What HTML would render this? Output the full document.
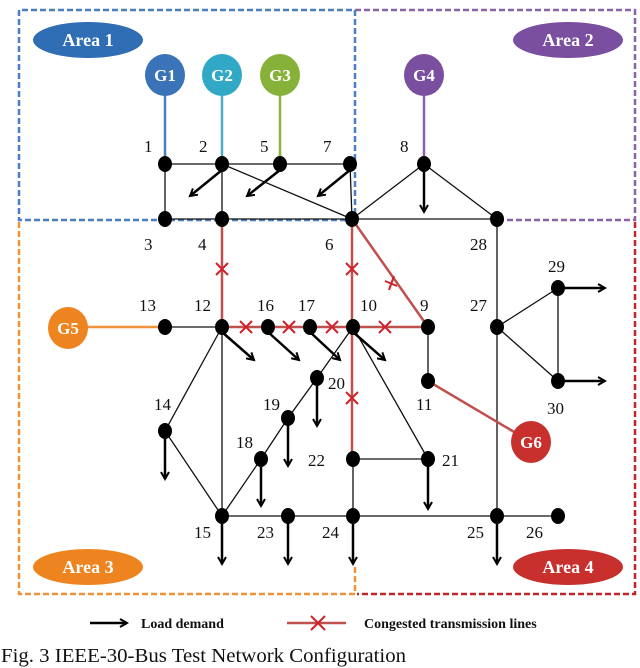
<!DOCTYPE html>
<html><head><meta charset="utf-8"><style>
html,body{margin:0;padding:0;background:#fff;}
svg{display:block;}
text{font-family:"Liberation Serif",serif;}
.n{font-size:17px;fill:#111;}
.g{font-size:17px;font-weight:bold;fill:#fff;text-anchor:middle;}
.a{font-size:18px;font-weight:bold;fill:#fff;text-anchor:middle;}
</style></head><body>
<svg width="640" height="668" viewBox="0 0 640 668" xmlns="http://www.w3.org/2000/svg">
<defs>
<marker id="ar" markerWidth="10" markerHeight="10" refX="8" refY="5" orient="auto" markerUnits="userSpaceOnUse">
<path d="M1,1 L8,5 L1,9" fill="none" stroke="#000" stroke-width="2"/>
</marker>
</defs>
<!-- area boxes -->
<g fill="none" stroke-width="2.5" stroke-dasharray="6,3">
<path d="M355,220 L19,220 L19,10 L355,10 Z" stroke="#4a7fc0"/>
<path d="M355,10 L635,10 L635,220 L497,220" stroke="#8a64a8"/>
<path d="M19,222 L19,594 L355,594 L355,567" stroke="#f0923a"/>
<path d="M635,222 L635,594 L357,594" stroke="#c0262c"/>
</g>
<!-- black lines -->
<g stroke="#111" stroke-width="1.3" fill="none">
<path d="M165,164 L350,164 M165,164 L165,219 M222,164 L222,219 M165,219 L497,219 M222,164 L352,219 M350,164 L352,219 M424,164 L352,219 M424,164 L497,219 M497,219 L497,516 M497,327 L558,288 M497,327 L558,381 M558,288 L558,381"/>
<path d="M165,327 L222,327 M428,327 L428,381 M222,327 L165,431 L222,516 M222,327 L222,516 M222,516 L261,459 L288,418 L317,378 L353,327 M353,327 L428,459 M353,459 L428,459 M353,459 L353,516 M222,516 L558,516"/>
</g>
<!-- red lines -->
<g stroke="#c0504d" stroke-width="2.5" fill="none">
<path d="M222,219 L222,327 M352,219 L352,459 M352,219 L428,327 M222,327 L428,327 M428,381 L531,442"/>
</g>
<!-- gen lines -->
<g stroke-width="2.5">
<line x1="165" y1="90" x2="165" y2="164" stroke="#4a7fc0"/>
<line x1="222" y1="90" x2="222" y2="164" stroke="#4bacc6"/>
<line x1="280" y1="90" x2="280" y2="164" stroke="#8db33a"/>
<line x1="424" y1="90" x2="424" y2="164" stroke="#8a64a8"/>
<line x1="85" y1="327" x2="165" y2="327" stroke="#f0923a"/>
</g>
<!-- X marks -->
<g stroke="#d0202a" stroke-width="2" fill="none">
<path d="M216,263 l12,12 m0,-12 l-12,12"/>
<path d="M346,263 l12,12 m0,-12 l-12,12"/>
<path d="M346,392 l12,12 m0,-12 l-12,12"/>
<path d="M240,321 l12,12 m0,-12 l-12,12"/>
<path d="M283,321 l12,12 m0,-12 l-12,12"/>
<path d="M326,321 l12,12 m0,-12 l-12,12"/>
<path d="M379,321 l12,12 m0,-12 l-12,12"/>
<path d="M385,281 l12,5 M394,276 l-5,14"/>
</g>
<!-- load arrows -->
<g stroke="#000" stroke-width="2.5" fill="none" marker-end="url(#ar)">
<line x1="222" y1="170" x2="190" y2="196"/>
<line x1="280" y1="170" x2="247" y2="196"/>
<line x1="350" y1="170" x2="318" y2="196"/>
<line x1="424" y1="170" x2="424" y2="212"/>
<line x1="222" y1="332" x2="254" y2="360"/>
<line x1="268" y1="332" x2="299" y2="360"/>
<line x1="310" y1="332" x2="340" y2="360"/>
<line x1="353" y1="332" x2="385" y2="360"/>
<line x1="317" y1="380" x2="317" y2="426"/>
<line x1="288" y1="420" x2="288" y2="466"/>
<line x1="165" y1="433" x2="165" y2="479"/>
<line x1="261" y1="461" x2="261" y2="506"/>
<line x1="428" y1="461" x2="428" y2="509"/>
<line x1="222" y1="518" x2="222" y2="564"/>
<line x1="288" y1="518" x2="288" y2="564"/>
<line x1="353" y1="518" x2="353" y2="564"/>
<line x1="497" y1="518" x2="497" y2="564"/>
<line x1="558" y1="288" x2="605" y2="288"/>
<line x1="558" y1="381" x2="605" y2="381"/>
<line x1="90" y1="623" x2="127" y2="623"/>
</g>
<!-- nodes -->
<g fill="#000">
<ellipse cx="165" cy="164" rx="7" ry="8"/><ellipse cx="222" cy="164" rx="7" ry="8"/><ellipse cx="280" cy="164" rx="7" ry="8"/><ellipse cx="350" cy="164" rx="7" ry="8"/><ellipse cx="424" cy="164" rx="7" ry="8"/>
<ellipse cx="165" cy="219" rx="7" ry="8"/><ellipse cx="222" cy="219" rx="7" ry="8"/><ellipse cx="352" cy="219" rx="7" ry="8"/><ellipse cx="497" cy="219" rx="7" ry="8"/>
<ellipse cx="558" cy="288" rx="7" ry="8"/>
<ellipse cx="165" cy="327" rx="7" ry="8"/><ellipse cx="222" cy="327" rx="7" ry="8"/><ellipse cx="268" cy="327" rx="7" ry="8"/><ellipse cx="310" cy="327" rx="7" ry="8"/><ellipse cx="353" cy="327" rx="7" ry="8"/><ellipse cx="428" cy="327" rx="7" ry="8"/><ellipse cx="497" cy="327" rx="7" ry="8"/>
<ellipse cx="317" cy="378" rx="7" ry="8"/><ellipse cx="428" cy="381" rx="7" ry="8"/><ellipse cx="558" cy="381" rx="7" ry="8"/>
<ellipse cx="165" cy="431" rx="7" ry="8"/><ellipse cx="288" cy="418" rx="7" ry="8"/>
<ellipse cx="261" cy="459" rx="7" ry="8"/><ellipse cx="353" cy="459" rx="7" ry="8"/><ellipse cx="428" cy="459" rx="7" ry="8"/>
<ellipse cx="222" cy="516" rx="7" ry="8"/><ellipse cx="288" cy="516" rx="7" ry="8"/><ellipse cx="353" cy="516" rx="7" ry="8"/><ellipse cx="497" cy="516" rx="7" ry="8"/><ellipse cx="558" cy="516" rx="7" ry="8"/>
</g>
<!-- labels -->
<g class="n">
<text x="144" y="152">1</text><text x="199" y="152">2</text><text x="260" y="152">5</text><text x="323" y="152">7</text><text x="400" y="152">8</text>
<text x="144" y="250">3</text><text x="198" y="250">4</text><text x="325" y="250">6</text><text x="470" y="250">28</text>
<text x="548" y="272">29</text>
<text x="139" y="311">13</text><text x="194" y="311">12</text><text x="257" y="311">16</text><text x="298" y="311">17</text><text x="360" y="311">10</text><text x="420" y="311">9</text><text x="470" y="311">27</text>
<text x="328" y="389">20</text><text x="154" y="410">14</text><text x="263" y="410">19</text><text x="416" y="410">11</text><text x="547" y="414">30</text>
<text x="236" y="448">18</text><text x="308" y="466">22</text><text x="442" y="466">21</text>
<text x="194" y="538">15</text><text x="257" y="538">23</text><text x="322" y="538">24</text><text x="467" y="538">25</text><text x="526" y="538">26</text>
</g>
<!-- generators -->
<ellipse cx="165" cy="75" rx="20" ry="21" fill="#3a73b8"/><text class="g" x="165" y="81">G1</text>
<ellipse cx="222" cy="75" rx="20" ry="21" fill="#31a9c6"/><text class="g" x="222" y="81">G2</text>
<ellipse cx="280" cy="75" rx="20" ry="21" fill="#87b23a"/><text class="g" x="280" y="81">G3</text>
<ellipse cx="424" cy="75" rx="20" ry="21" fill="#7b4fa0"/><text class="g" x="424" y="81">G4</text>
<ellipse cx="68" cy="328" rx="20" ry="21" fill="#ee8420"/><text class="g" x="68" y="334">G5</text>
<ellipse cx="531" cy="442" rx="20" ry="21" fill="#c8302e"/><text class="g" x="531" y="448">G6</text>
<!-- area labels -->
<ellipse cx="88" cy="40" rx="55" ry="18" fill="#2f6db5"/><text class="a" x="88" y="46">Area 1</text>
<ellipse cx="568" cy="40" rx="55" ry="18" fill="#7b4fa0"/><text class="a" x="568" y="46">Area 2</text>
<ellipse cx="88" cy="567" rx="55" ry="18" fill="#ee8420"/><text class="a" x="88" y="573">Area 3</text>
<ellipse cx="568" cy="567" rx="55" ry="18" fill="#c8302e"/><text class="a" x="568" y="573">Area 4</text>
<!-- legend -->
<text x="141" y="628" font-size="14" font-weight="bold" fill="#111">Load demand</text>
<line x1="287" y1="623" x2="346" y2="623" stroke="#c0504d" stroke-width="2.5"/>
<path d="M311,616 l14,14 m0,-14 l-14,14" stroke="#d0202a" stroke-width="2" fill="none"/>
<text x="364" y="628" font-size="14" font-weight="bold" fill="#111">Congested transmission lines</text>
<text x="1" y="662" font-size="20" fill="#111" textLength="405" lengthAdjust="spacingAndGlyphs">Fig. 3 IEEE-30-Bus Test Network Configuration</text>
</svg>
</body></html>
